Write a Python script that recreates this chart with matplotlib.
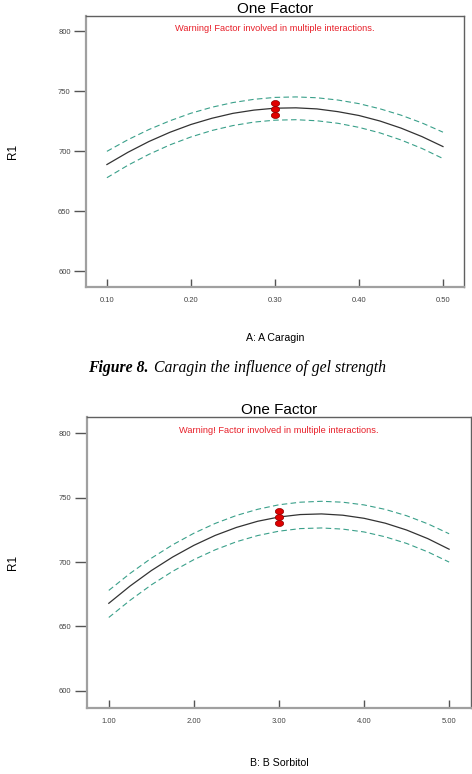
import numpy as np
import matplotlib.pyplot as plt
from matplotlib.path import Path

# panel 1: A Caragin
caragin_x = [0.100, 0.125, 0.150, 0.175, 0.200, 0.225, 0.250, 0.275, 0.300,
             0.325, 0.350, 0.375, 0.400, 0.425, 0.450, 0.475, 0.500]
caragin_mean = [689, 699.2, 708.2, 715.9, 722.4, 727.6, 731.7, 734.4, 736,
                736.3, 735.4, 733.1, 729.9, 725.3, 719.4, 712.3, 704]
caragin_upper = [700, 709.7, 718.2, 725.5, 731.8, 736.8, 740.7, 743.4, 745,
                 745.4, 744.7, 742.8, 739.8, 735.5, 730.2, 723.7, 716]
caragin_lower = [678, 688.4, 697.5, 705.4, 712, 717.4, 721.5, 724.4, 726,
                 726.4, 725.5, 723.4, 720, 715.4, 709.5, 702.4, 694]
caragin_pts_x = [0.30, 0.30, 0.30]
caragin_pts_y = [740, 735, 730]
caragin_ticks = [0.10, 0.20, 0.30, 0.40, 0.50]

# panel 2: B Sorbitol
sorbitol_x = [1.0, 1.25, 1.5, 1.75, 2.0, 2.25, 2.5, 2.75, 3.0,
              3.25, 3.5, 3.75, 4.0, 4.25, 4.5, 4.75, 5.0]
sorbitol_mean = [668, 681.4, 693.4, 703.9, 713, 720.7, 726.9, 731.7, 735,
                 736.9, 737.4, 736.4, 734, 730.2, 724.9, 718.2, 710]
sorbitol_upper = [678, 691.2, 703, 713.4, 722.4, 730, 736.2, 741, 744.5,
                  746.5, 747.2, 746.5, 744.4, 740.9, 736, 729.7, 722]
sorbitol_lower = [657, 670.3, 682.3, 692.8, 701.9, 709.5, 715.8, 720.6, 724,
                  726, 726.5, 725.6, 723.4, 719.6, 714.5, 707.9, 700]
sorbitol_pts_x = [3.0, 3.0, 3.0]
sorbitol_pts_y = [740, 735, 730]
sorbitol_ticks = [1.0, 2.0, 3.0, 4.0, 5.0]

y_ticks = [600, 650, 700, 750, 800]

fig = plt.figure(figsize=(4.72, 7.74), dpi=100)
plt.rcParams['font.family'] = ['Liberation Sans', 'DejaVu Sans']

band_color = '#3aa08a'

# flattened ellipse used for the design points
ang = np.linspace(0, 2 * np.pi, 40)
ellipse = Path(np.column_stack([np.cos(ang), 0.72 * np.sin(ang)]), closed=True)


def panel(rect, x, mean, upper, lower, px, py, xticks, xlim, xlabel, fmt, xlab_y):
    ax = fig.add_axes(rect)
    ax.plot(x, upper, color=band_color, lw=0.8, ls=(0, (5, 3)))
    ax.plot(x, lower, color=band_color, lw=0.8, ls=(0, (5, 3)))
    ax.plot(x, mean, color='#333333', lw=0.9)
    ax.plot(px, py, ls='none', marker=ellipse, ms=6, mfc='#e00000',
            mec='#8a0000', mew=0.5, zorder=5)
    ax.set_xlim(*xlim)
    ax.set_ylim(586.7, 812.7)
    ax.set_xticks(xticks)
    ax.set_xticklabels([fmt % v for v in xticks], fontsize=5.5, color='#444444')
    ax.set_yticks(y_ticks)
    ax.set_yticklabels([str(v) for v in y_ticks], fontsize=5.5, color='#444444')
    ax.tick_params(axis='y', direction='out', length=9, width=1, color='#555555', pad=2)
    ax.tick_params(axis='x', direction='in', length=6, width=1, color='#555555', pad=7)
    for s in ['left', 'bottom']:
        ax.spines[s].set_color('#a0a0a0')
        ax.spines[s].set_linewidth(1.6)
    for s in ['top', 'right']:
        ax.spines[s].set_color('#606060')
        ax.spines[s].set_linewidth(1.0)
    ax.set_title('One Factor', fontsize=11, pad=2)
    ax.text(0.5, 0.955, 'Warning! Factor involved in multiple interactions.',
            transform=ax.transAxes, ha='center', va='center', fontsize=6.7,
            color='#e8202a')
    ax.text(-0.193, 0.5, 'R1', transform=ax.transAxes, rotation=90,
            ha='center', va='center', fontsize=8.5)
    fig.text(rect[0] + rect[2] * 0.5, xlab_y, xlabel, ha='center',
             va='center', fontsize=7.6)
    return ax


panel([0.182, 0.629, 0.801, 0.350], caragin_x, caragin_mean, caragin_upper,
      caragin_lower, caragin_pts_x, caragin_pts_y, caragin_ticks,
      (0.075, 0.525), 'A: A Caragin', '%.2f', 1 - 338 / 774)

panel([0.184, 0.0853, 0.814, 0.376], sorbitol_x, sorbitol_mean, sorbitol_upper,
      sorbitol_lower, sorbitol_pts_x, sorbitol_pts_y, sorbitol_ticks,
      (0.742, 5.258), 'B: B Sorbitol', '%.2f', 1 - 763 / 774)

fig.text(88 / 472, 1 - 368 / 774, 'Figure 8.', family='Liberation Serif',
         fontsize=11.3, style='italic', weight='bold', va='center', ha='left')
fig.text(154 / 472, 1 - 368 / 774, 'Caragin the influence of gel strength',
         family='Liberation Serif', fontsize=11.3, style='italic',
         va='center', ha='left')

fig.savefig('out.png', dpi=100)
